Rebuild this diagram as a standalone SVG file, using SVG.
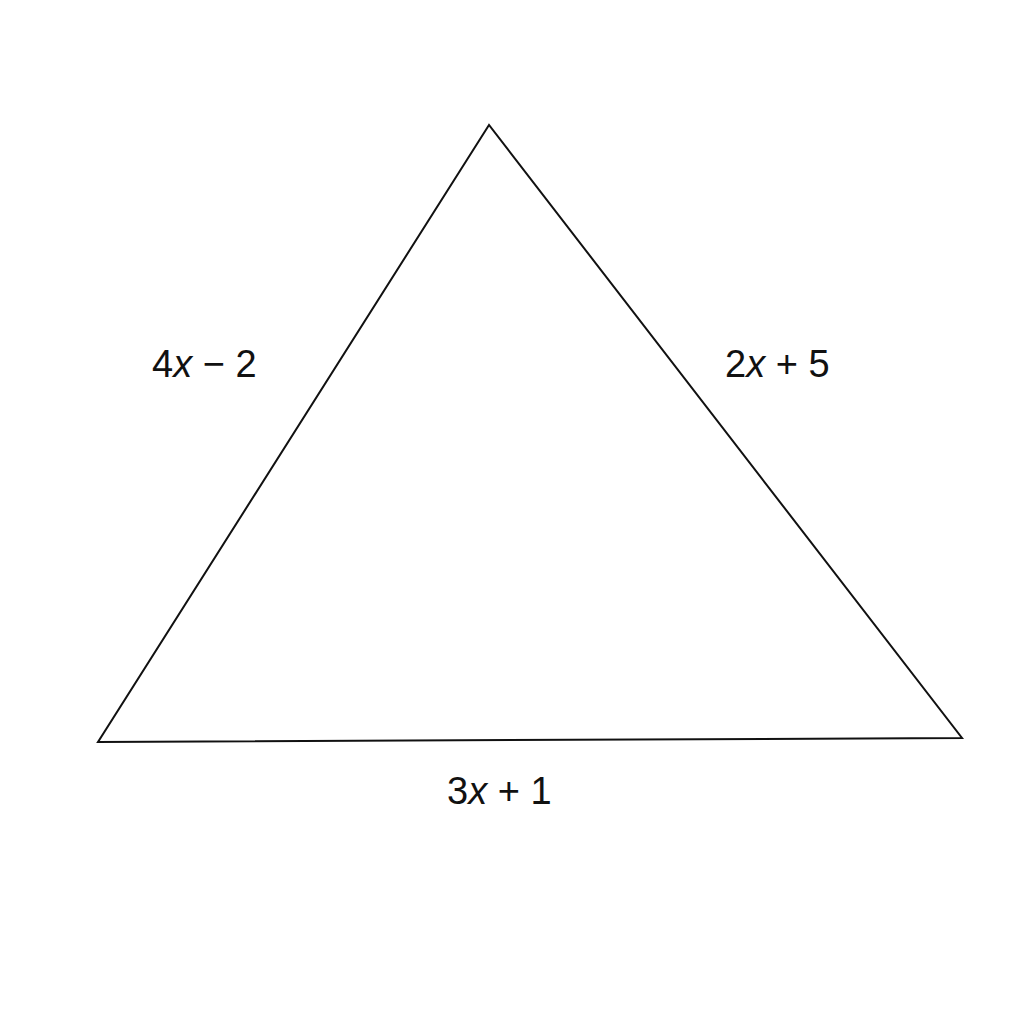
<svg xmlns="http://www.w3.org/2000/svg" width="1024" height="1024" viewBox="0 0 1024 1024">
<style>
.lbl{font-family:"Liberation Sans",Arial,sans-serif;font-size:38px;fill:#111}
.v{font-style:italic}
.edge{fill:none;stroke:#111;stroke-width:2}
</style>
<rect width="1024" height="1024" fill="#ffffff"/>
<g id="triangle">
<polygon class="edge" points="489,125 98,742 962,738"/>
</g>
<g id="labels">
<text id="label-left" class="lbl" x="152" y="377">4<tspan class="v">x</tspan> − 2</text>
<text id="label-right" class="lbl" x="725" y="377">2<tspan class="v">x</tspan> + 5</text>
<text id="label-bottom" class="lbl" x="447" y="804">3<tspan class="v">x</tspan> + 1</text>
</g>
</svg>
